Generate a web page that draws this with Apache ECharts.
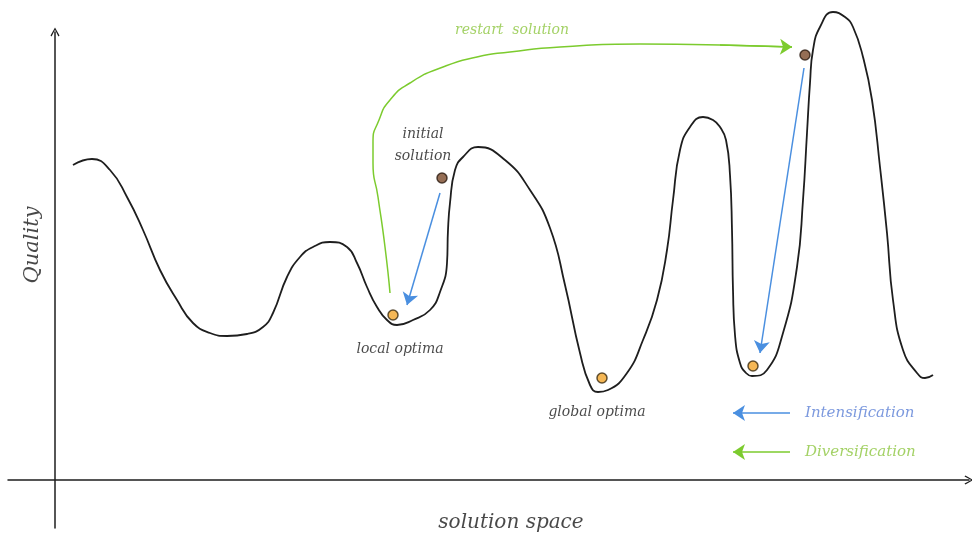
<!DOCTYPE html>
<html>
<head>
<meta charset="utf-8">
<script src="https://cdn.jsdelivr.net/npm/echarts@6/dist/echarts.min.js"></script>
<style>
html,body{margin:0;padding:0;background:#fff;}
#chart{width:972px;height:541px;}
</style>
</head>
<body>
<div id="chart"></div>
<script>
// ---- data (x: position in solution space, y: quality) ----
const curveX = [18,37,55,72,88,105,122,138,155,172,192,208,218,232,245,258,275,292,302,312,322,332,342,358,375,385,392,393,395,400,408,423,450,475,495,510,525,535,543,553,572,588,602,612,618,625,635,648,658,665,671,675,677,678,680,685,691,697,712,728,742,748,752,755,758,765,778,790,798,808,817,825,832,838,848,862,870,878];
const curveY = [315,321,310,283,250,210,180,157,147,144,146,153,167,203,223,233,238,233,217,193,173,160,155,160,170,188,217,250,277,310,323,333,320,290,252,195,127,95,88,90,107,140,180,230,280,330,353,363,360,353,340,305,250,190,145,117,107,104,110,147,213,280,347,397,430,453,468,463,453,423,380,313,247,180,130,107,102,105];

const initialSolutions = [[387, 302], [750, 425]];          // brown dots
const optimaPoints = [[338, 165], [547, 102], [698, 114]];   // orange dots

const intensifyMoves = [[[385, 287], [352, 175]], [[749, 412], [705, 127]]];
const restartX = [335, 330, 323, 318, 318, 324, 335, 355, 388, 422, 455, 505, 585, 665, 737];
const restartY = [187, 233, 283, 317, 337, 360, 380, 397, 413, 423, 428, 433, 436, 435, 433];

const legendArrows = [
  { name: 'Intensification', from: [735, 67], to: [678, 67] },
  { name: 'Diversification', from: [735, 28], to: [678, 28] }
];

const annotations = [
  { text: 'initial\nsolution', x: 368, y: 335, key: 'label' },
  { text: 'local optima', x: 345, y: 131, key: 'label' },
  { text: 'global optima', x: 542, y: 68, key: 'label' },
  { text: 'restart  solution', x: 457, y: 450, key: 'green' },
  { text: 'Intensification', x: 750, y: 67, key: 'legendBlue' },
  { text: 'Diversification', x: 750, y: 28, key: 'legendGreen' },
  { text: 'Quality', x: -22, y: 235, key: 'axisY' },
  { text: 'solution space', x: 456, y: -43, key: 'axisX' }
];

// ---- styles ----
const BLACK = '#1e1e1e';
const BLUE = '#4a8fe0';
const GREEN = '#7ccb2e';
const BLUE_TEXT = '#5b7fd6';
const GREEN_TEXT = '#8cc63f';
const FONT = '"DejaVu Serif", serif';
const chevron = 'path://M0,9 L5,0 L10,9 L8.8,10 L5,2.6 L1.2,10 Z';

const labelStyles = {
  label: { color: '#1a1a1a', fontSize: 14, position: 'inside', lineHeight: 22 },
  green: { color: GREEN_TEXT, fontSize: 14, position: 'inside' },
  legendBlue: { color: BLUE_TEXT, fontSize: 15, position: 'right', distance: 0 },
  legendGreen: { color: GREEN_TEXT, fontSize: 15, position: 'right', distance: 0 },
  axisY: { color: '#1a1a1a', fontSize: 21, position: 'inside', rotate: 90 },
  axisX: { color: '#1a1a1a', fontSize: 20, position: 'inside' }
};

const chart = echarts.init(document.getElementById('chart'));

const axisCommon = {
  type: 'value',
  axisTick: { show: false },
  axisLabel: { show: false },
  splitLine: { show: false }
};

const option = {
  animation: false,
  backgroundColor: '#ffffff',
  grid: { left: 8, right: 3, top: 32, bottom: 13, containLabel: false },
  xAxis: Object.assign({}, axisCommon, {
    min: -47, max: 914,
    axisLine: { show: true, onZero: true, symbol: ['none', chevron], symbolSize: [11, 9],
      lineStyle: { color: BLACK, width: 1.5 } }
  }),
  yAxis: Object.assign({}, axisCommon, {
    min: -48, max: 448,
    axisLine: { show: true, onZero: true, symbol: ['none', chevron], symbolSize: [11, 9],
      lineStyle: { color: BLACK, width: 1.5 } }
  }),
  series: [
    {
      name: 'landscape',
      type: 'line',
      data: curveX.map((x, i) => [x, curveY[i]]),
      smooth: 0.5,
      showSymbol: false,
      clip: false,
      lineStyle: { color: BLACK, width: 1.8 },
      z: 3
    },
    {
      name: 'restart',
      type: 'line',
      data: restartX.map((x, i) => [x, restartY[i]]),
      smooth: 0.6,
      showSymbol: false,
      clip: false,
      lineStyle: { color: GREEN, width: 1.5 },
      markLine: {
        silent: true,
        symbol: ['none', 'arrow'],
        symbolSize: 12,
        label: { show: false },
        lineStyle: { color: GREEN, width: 1.5, type: 'solid' },
        data: [[{ coord: [restartX[restartX.length - 2], restartY[restartY.length - 2]] },
                { coord: [restartX[restartX.length - 1], restartY[restartY.length - 1]] }]]
      },
      z: 2
    },
    {
      name: 'moves',
      type: 'line',
      data: [],
      markLine: {
        silent: true,
        symbolSize: 12,
        label: { show: false },
        data: intensifyMoves.map(m => [
          { coord: m[0], symbol: 'none', lineStyle: { color: BLUE, width: 1.5, type: 'solid' } },
          { coord: m[1], symbol: 'arrow' }
        ]).concat(legendArrows.map((a, i) => [
          { coord: a.from, symbol: 'none', lineStyle: { color: i === 0 ? BLUE : GREEN, width: 1.5, type: 'solid' } },
          { coord: a.to, symbol: 'arrow' }
        ]))
      }
    },
    {
      name: 'initial',
      type: 'scatter',
      data: initialSolutions,
      symbolSize: 10,
      clip: false,
      itemStyle: { color: '#7a4a2a', borderColor: '#2a1a10', borderWidth: 1.5 },
      z: 5
    },
    {
      name: 'optima',
      type: 'scatter',
      data: optimaPoints,
      symbolSize: 10,
      clip: false,
      itemStyle: { color: '#f2a52a', borderColor: '#3a2a10', borderWidth: 1.5 },
      z: 5
    },
    {
      name: 'text',
      type: 'scatter',
      symbolSize: 0,
      clip: false,
      silent: true,
      data: annotations.map(a => ({
        value: [a.x, a.y],
        label: Object.assign({
          show: true,
          formatter: a.text,
          fontFamily: FONT,
          fontStyle: 'italic'
        }, labelStyles[a.key])
      })),
      z: 6
    }
  ]
};

chart.setOption(option);
</script>
</body>
</html>
